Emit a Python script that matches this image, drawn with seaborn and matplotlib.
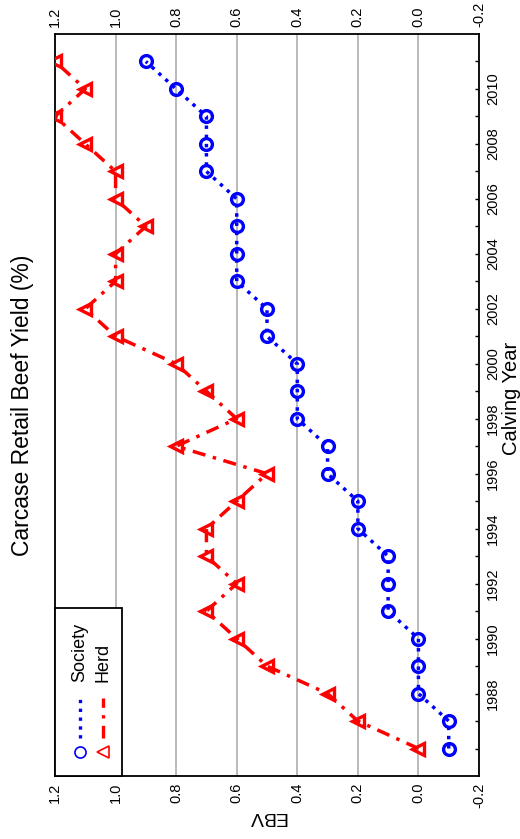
import numpy as np
import pandas as pd
import seaborn as sns
import matplotlib.pyplot as plt
from matplotlib.lines import Line2D
from matplotlib.patches import Rectangle

# ---------------- data ----------------
years = list(range(1986, 2012))
society = [-0.1, -0.1, 0.0, 0.0, 0.0, 0.1, 0.1, 0.1, 0.2, 0.2, 0.3, 0.3, 0.4,
           0.4, 0.4, 0.5, 0.5, 0.6, 0.6, 0.6, 0.6, 0.7, 0.7, 0.7, 0.8, 0.9]
herd = [0.0, 0.2, 0.3, 0.5, 0.6, 0.7, 0.6, 0.7, 0.7, 0.6, 0.5, 0.8, 0.6,
        0.7, 0.8, 1.0, 1.1, 1.0, 1.0, 0.9, 1.0, 1.0, 1.1, 1.2, 1.1, 1.2]
ebv_ticks = [1.2, 1.0, 0.8, 0.6, 0.4, 0.2, 0.0, -0.2]
ebv_labels = ["1.2", "1.0", "0.8", "0.6", "0.4", "0.2", "0.0", "-0.2"]
year_labels = [str(y) if (y % 2 == 0 and 1988 <= y <= 2010) else "" for y in years]
series_names = ["Society", "Herd"]
title = "Carcase Retail Beef Yield (%)"

df = pd.DataFrame({
    "Calving Year": years * 2,
    "EBV": society + herd,
    "Series": [series_names[0]] * len(years) + [series_names[1]] * len(years),
})

# ---------------- figure ----------------
sns.set_theme(style="white")
plt.rcParams["font.family"] = ["Liberation Sans", "DejaVu Sans"]

fig = plt.figure(figsize=(5.2, 8.39), dpi=100)
ax = fig.add_axes([55 / 520, 1 - 776 / 839, 424 / 520, 742 / 839])

dash_dot = (0, (3.8, 2.2, 1.0, 2.2))

sns.lineplot(data=df[df.Series == "Society"], x="EBV", y="Calving Year",
             orient="y", sort=False, estimator=None, errorbar=None,
             color="#0000ff", linestyle=":", linewidth=2.5,
             marker="o", markersize=8.5, markerfacecolor="none",
             markeredgecolor="#0000ff", markeredgewidth=2.4,
             ax=ax, legend=False, zorder=3)
sns.lineplot(data=df[df.Series == "Herd"], x="EBV", y="Calving Year",
             orient="y", sort=False, estimator=None, errorbar=None,
             color="#ff0000", linestyle=dash_dot, linewidth=2.5,
             marker="<", markersize=8.5, markerfacecolor="none",
             markeredgecolor="#ff0000", markeredgewidth=2.4,
             ax=ax, legend=False, zorder=3)

# axes ranges (chart is drawn rotated 90 degrees)
ax.set_xlim(1.2, -0.2)
ax.set_ylim(1985, 2012)

ax.grid(axis="x", color="#b4b4b4", linewidth=1.3, zorder=0)
ax.grid(axis="y", visible=False)
ax.set_axisbelow(True)

for s in ax.spines.values():
    s.set_color("black")
    s.set_linewidth(1.3)

# EBV ticks on both long sides
ax.set_xticks(ebv_ticks)
ax.set_xticklabels(ebv_labels)
ax.tick_params(axis="x", top=True, bottom=True, labeltop=True, labelbottom=True,
               length=0, pad=5, labelsize=10.5, labelrotation=90, colors="black")

# Year ticks on right side
ax.set_yticks(years)
ax.set_yticklabels(year_labels)
ax.yaxis.tick_right()
ax.tick_params(axis="y", left=False, right=True, labelleft=False, labelright=True,
               direction="in", length=3, width=1, pad=5, labelsize=10.5,
               labelrotation=90, colors="black")
for lab in ax.get_yticklabels():
    lab.set_verticalalignment("center")

# axis labels
ax.set_xlabel("EBV", fontsize=14, rotation=180, color="black")
ax.xaxis.set_label_coords(0.5, -(816 - 776) / 742)
ax.xaxis.label.set_va("center")
ax.xaxis.label.set_ha("center")

ax.set_ylabel("Calving Year", fontsize=14.5, rotation=90, color="black")
ax.yaxis.set_label_position("right")
ax.yaxis.set_label_coords((512 - 55) / 424, (776 - 398) / 742)
ax.yaxis.label.set_va("center")
ax.yaxis.label.set_ha("center")

# title (on the left, rotated)
fig.text(23 / 520, 1 - 405 / 839, title, rotation=90, fontsize=16.5,
         ha="center", va="center", color="black")

# ---------------- legend (drawn manually, rotated) ----------------
tr = ax.transAxes
def fx(px):
    return (px - 55) / 424
def fy(py):
    return (776 - py) / 742

ax.add_patch(Rectangle((0, 0), fx(122), fy(608), transform=tr, facecolor="white",
                       edgecolor="black", linewidth=1.3, zorder=6, clip_on=False))
leg_specs = [
    (series_names[0], 80, "#0000ff", ":", "o", 8),
    (series_names[1], 103, "#ff0000", dash_dot, "<", 8),
]
for name, xc, col, ls, mk, ms in leg_specs:
    ax.add_line(Line2D([fx(xc)], [fy(752)], transform=tr, marker=mk, markersize=ms,
                       markerfacecolor="none", markeredgecolor=col,
                       markeredgewidth=1.2, linestyle="none", zorder=7))
    ax.add_line(Line2D([fx(xc), fx(xc)], [fy(738), fy(698)], transform=tr,
                       color=col, linestyle=ls, linewidth=2.4, zorder=7))
    ax.text(fx(xc), fy(682), name, transform=tr, rotation=90, fontsize=13,
            ha="left", va="center", rotation_mode="anchor", zorder=8, color="black")

fig.savefig("out.png", dpi=100)
